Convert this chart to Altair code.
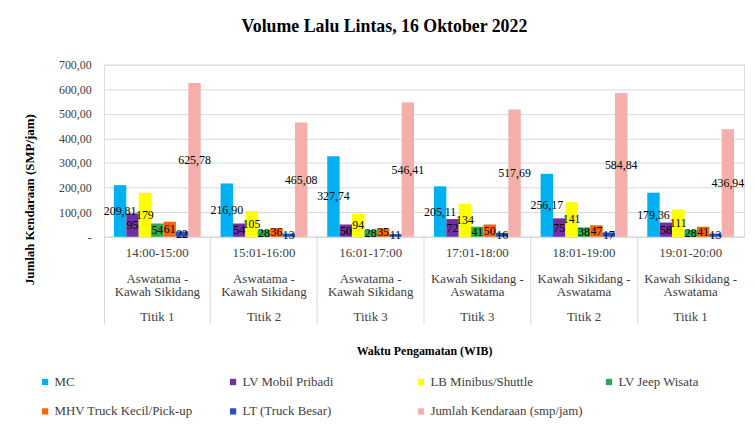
import altair as alt
import pandas as pd

# ---- data ----
times = ["14:00-15:00", "15:01-16:00", "16:01-17:00", "17:01-18:00", "18:01-19:00", "19:01-20:00"]
route_line1 = ["Aswatama -", "Aswatama -", "Aswatama -", "Kawah Sikidang -", "Kawah Sikidang -", "Kawah Sikidang -"]
route_line2 = ["Kawah Sikidang", "Kawah Sikidang", "Kawah Sikidang", "Aswatama", "Aswatama", "Aswatama"]
points = ["Titik 1", "Titik 2", "Titik 3", "Titik 3", "Titik 2", "Titik 1"]

series = ["MC", "LV Mobil Pribadi", "LB Minibus/Shuttle", "LV Jeep Wisata",
          "MHV Truck Kecil/Pick-up", "LT (Truck Besar)", "Jumlah Kendaraan (smp/jam)"]
colors = ["#00B0F0", "#7030A0", "#FFFF00", "#2FA84F", "#F4650F", "#2451C0", "#F4AFAB"]

mc = [209.81, 216.90, 327.74, 205.11, 256.17, 179.36]
lv_mobil = [95, 54, 50, 72, 75, 58]
lb_minibus = [179, 105, 94, 134, 141, 111]
lv_jeep = [54, 28, 28, 41, 38, 28]
mhv = [61, 36, 35, 50, 47, 41]
lt = [22, 13, 11, 16, 17, 13]
total = [625.78, 465.08, 546.41, 517.69, 584.84, 436.94]

values = [mc, lv_mobil, lb_minibus, lv_jeep, mhv, lt, total]

BL = "\u200b"  # blank spacer line in the multi-line axis label
groups = [f"{t}|{BL}|{a}|{b}|{BL}|{p}" for t, a, b, p in zip(times, route_line1, route_line2, points)]

rows = []
for s, vals in zip(series, values):
    for g, v in zip(groups, vals):
        lab = f"{v:.2f}".replace(".", ",") if v != int(v) else str(int(v))
        rows.append({"grp": g, "series": s, "value": v, "label": lab})
df = pd.DataFrame(rows)

FONT = "Liberation Serif"

x_enc = alt.X("grp:N", sort=groups, title="Waktu Pengamatan (WIB)",
              scale=alt.Scale(paddingInner=0, paddingOuter=0),
              axis=alt.Axis(labelExpr="split(datum.label, '|')", labelAngle=0,
                            labelFont=FONT, labelFontSize=13, labelColor="#404040",
                            labelLineHeight=13, labelPadding=-78,
                            tickSize=88, tickColor="#D9D9D9", bandPosition=0,
                            domainColor="#D9D9D9",
                            titleFont=FONT, titleFontSize=12, titleFontWeight="bold",
                            titleColor="#000000", titleY=115, titleBaseline="middle"))
xo_enc = alt.XOffset("series:N", sort=series,
                     scale=alt.Scale(paddingInner=0, paddingOuter=0.8))

y_axis = alt.Axis(values=[0, 100, 200, 300, 400, 500, 600, 700],
                  labelExpr="datum.value == 0 ? '-' : replace(format(datum.value, '.2f'), '.', ',')",
                  labelFont=FONT, labelFontSize=12, labelColor="#404040",
                  labelPadding=13, labelOverlap=False, domain=False, ticks=False,
                  gridColor="#D9D9D9",
                  titleFont=FONT, titleFontSize=13, titleFontWeight="bold",
                  titleColor="#000000", titleAngle=270, titleX=-75, titleY=136,
                  titleAlign="center", titleBaseline="middle")
y_scale = alt.Scale(domain=[0, 700], nice=False)
Y_TITLE = "Jumlah Kendaraan (SMP/jam)"

base = alt.Chart(df)

bars = base.mark_bar().encode(
    x=x_enc,
    xOffset=xo_enc,
    y=alt.Y("value:Q", title=Y_TITLE, scale=y_scale, axis=y_axis),
    color=alt.Color("series:N", sort=series,
                    scale=alt.Scale(domain=series, range=colors),
                    legend=alt.Legend(title=None, orient="none", legendX=-66, legendY=314,
                                      direction="horizontal",
                                      columns=4, gridAlign="all", columnPadding=20,
                                      rowPadding=16, symbolType="square", symbolSize=40,
                                      symbolStrokeWidth=0, labelFont=FONT, labelFontSize=13,
                                      labelColor="#404040", labelLimit=300, labelOffset=3)),
)

texts = base.mark_text(font=FONT, fontSize=12, color="#000000", baseline="middle").encode(
    x=x_enc,
    xOffset=xo_enc,
    y=alt.Y("mid:Q", title=Y_TITLE, scale=y_scale, axis=y_axis),
    text="label:N",
).transform_calculate(mid="datum.value / 2")

chart = alt.layer(bars, texts).properties(
    width=647, height=174,
    autosize=alt.AutoSizeParams(type="none"),
    padding={"left": 97, "top": 55, "right": 3, "bottom": 190},
    title=alt.TitleParams("Volume Lalu Lintas, 16 Oktober 2022", font=FONT, fontSize=18,
                          fontWeight="bold", color="#000000", anchor="middle", dx=-40, offset=23),
).configure_view(stroke=None).configure(background="white")

chart.save("out.html", embed_options={"renderer": "svg", "actions": False})
